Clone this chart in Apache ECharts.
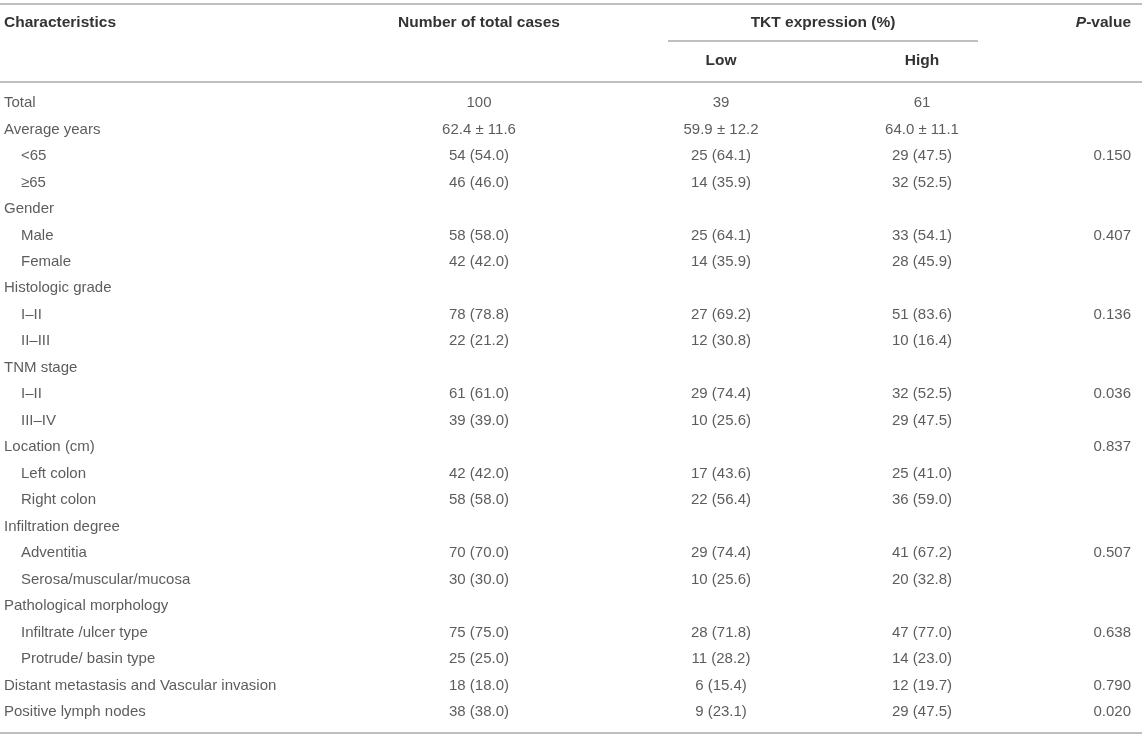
<!DOCTYPE html>
<html>
<head>
<meta charset="utf-8">
<script src="https://cdn.jsdelivr.net/npm/echarts@6/dist/echarts.min.js"></script>
<style>
html,body{margin:0;padding:0;background:#fff}
#chart{width:1145px;height:738px}
</style>
</head>
<body>
<div id="chart"></div>
<script>
// table content
var rowLabels=['Total','Average years','<65','\u226565','Gender','Male','Female','Histologic grade','I\u2013II','II\u2013III',
  'TNM stage','I\u2013II','III\u2013IV','Location (cm)','Left colon','Right colon','Infiltration degree','Adventitia',
  'Serosa/muscular/mucosa','Pathological morphology','Infiltrate /ulcer type','Protrude/ basin type',
  'Distant metastasis and Vascular invasion','Positive lymph nodes'];
var rowLevel=[0,0,1,1,0,1,1,0,1,1,0,1,1,0,1,1,0,1,1,0,1,1,0,0];
var totalCases=['100','62.4 \u00b1 11.6','54 (54.0)','46 (46.0)','','58 (58.0)','42 (42.0)','','78 (78.8)','22 (21.2)',
  '','61 (61.0)','39 (39.0)','','42 (42.0)','58 (58.0)','','70 (70.0)','30 (30.0)','','75 (75.0)','25 (25.0)','18 (18.0)','38 (38.0)'];
var lowExpr=['39','59.9 \u00b1 12.2','25 (64.1)','14 (35.9)','','25 (64.1)','14 (35.9)','','27 (69.2)','12 (30.8)',
  '','29 (74.4)','10 (25.6)','','17 (43.6)','22 (56.4)','','29 (74.4)','10 (25.6)','','28 (71.8)','11 (28.2)','6 (15.4)','9 (23.1)'];
var highExpr=['61','64.0 \u00b1 11.1','29 (47.5)','32 (52.5)','','33 (54.1)','28 (45.9)','','51 (83.6)','10 (16.4)',
  '','32 (52.5)','29 (47.5)','','25 (41.0)','36 (59.0)','','41 (67.2)','20 (32.8)','','47 (77.0)','14 (23.0)','12 (19.7)','29 (47.5)'];
var pValues=['','','0.150','','','0.407','','','0.136','','','0.036','','0.837','','','','0.507','','','0.638','','0.790','0.020'];

var FONT='"Liberation Sans", Arial, sans-serif';
var TXT='#333';
var RULE='#aaa';
var BODY=15, HEAD=15.5;

var chart=echarts.init(document.getElementById('chart'));

// one narrow grid per column, rows on a shared category layout
var cols=[
  {texts:rowLabels, left:0, width:8, pos:'right'},
  {texts:totalCases, left:419, width:120, pos:'inside'},
  {texts:lowExpr, left:661, width:120, pos:'inside'},
  {texts:highExpr, left:862, width:120, pos:'inside'},
  {texts:pValues, left:1121, width:20, pos:'left'}
];
var rowIdx=rowLabels.map(function(t,i){return i;});
var grids=[],xAxes=[],yAxes=[],series=[];
cols.forEach(function(c,ci){
  grids.push({left:c.left,width:c.width,top:89.76,height:635.5});
  xAxes.push({gridIndex:ci,type:'category',data:['c'],show:false});
  yAxes.push({gridIndex:ci,type:'category',data:rowIdx,inverse:true,show:false});
  series.push({
    type:'scatter',xAxisIndex:ci,yAxisIndex:ci,symbolSize:0,silent:true,
    data:c.texts.map(function(t,r){return [0,r];}),
    label:{
      show:true,position:c.pos,distance:0,color:TXT,fontFamily:FONT,fontSize:BODY,
      formatter:function(p){
        var t=c.texts[p.dataIndex];
        if(ci===0&&rowLevel[p.dataIndex]===1) return '{sub|'+t+'}';
        return t;
      },
      rich:{sub:{padding:[0,0,0,17],color:TXT,fontFamily:FONT,fontSize:BODY}}
    }
  });
});

function hline(x1,x2,y){
  return {type:'line',shape:{x1:x1,y1:y,x2:x2,y2:y},style:{stroke:RULE,lineWidth:1.5},silent:true};
}
function head(txt,x,y,align){
  return {type:'text',x:x,y:y,silent:true,
    style:{text:txt,font:'bold '+HEAD+'px '+FONT,fill:TXT,align:align||'center',verticalAlign:'middle',
      rich:{i:{fontStyle:'italic',fontWeight:'bold',fontFamily:FONT,fontSize:HEAD,fill:TXT}}}};
}

chart.setOption({
  animation:false,
  grid:grids,
  xAxis:xAxes,
  yAxis:yAxes,
  series:series,
  graphic:[
    hline(0,1142,4),
    hline(668,978,41),
    hline(0,1142,82),
    hline(0,1142,733),
    head('Characteristics',4,23,'left'),
    head('Number of total cases',479,23),
    head('TKT expression (%)',823,23),
    head('Low',721,61),
    head('High',922,61),
    head('{i|P}-value',1131,23,'right')
  ]
});
</script>
</body>
</html>
